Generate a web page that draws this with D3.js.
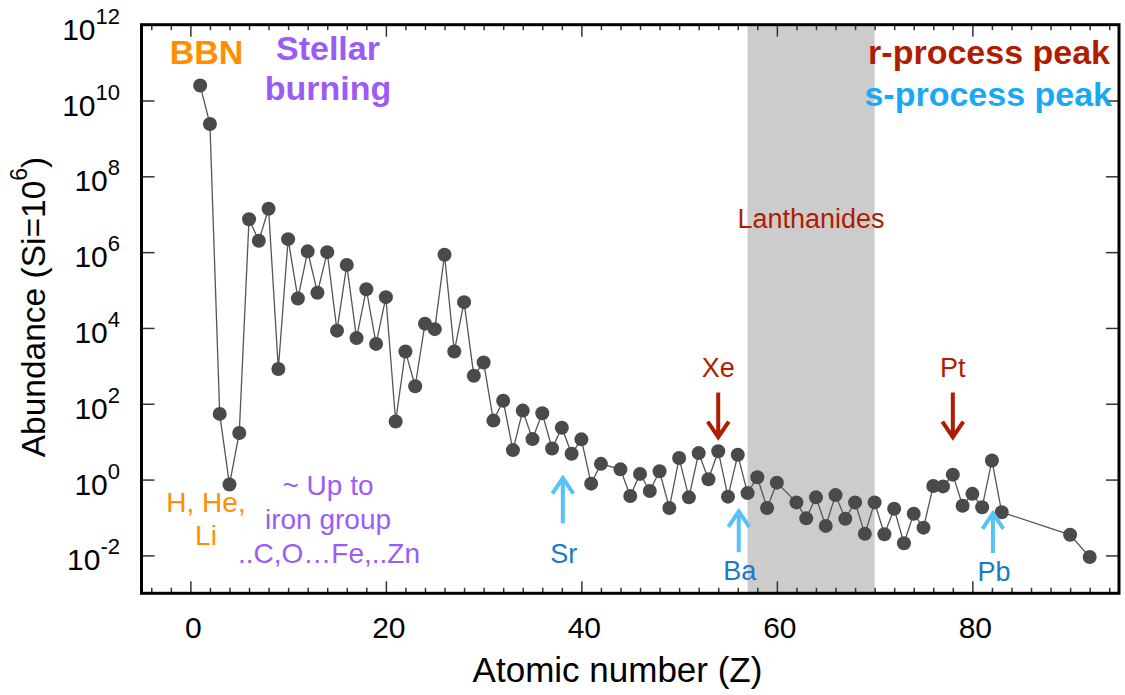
<!DOCTYPE html>
<html>
<head>
<meta charset="utf-8">
<script src="https://cdn.jsdelivr.net/npm/d3@7"></script>
<style>
  body { margin: 0; background: #ffffff; }
  svg text { font-family: "Liberation Sans", Arial, Helvetica, sans-serif; }
</style>
</head>
<body>
<svg id="chart" width="1125" height="695"></svg>
<script>
// Solar-system elemental abundances, normalised to Si = 1e6
const atomicNumbers = [
  1, 2, 3, 4, 5, 6, 7, 8, 9, 10,
  11, 12, 13, 14, 15, 16, 17, 18, 19, 20,
  21, 22, 23, 24, 25, 26, 27, 28, 29, 30,
  31, 32, 33, 34, 35, 36, 37, 38, 39, 40,
  41, 42, 44, 45, 46, 47, 48, 49, 50,
  51, 52, 53, 54, 55, 56, 57, 58, 59, 60,
  62, 63, 64, 65, 66, 67, 68, 69, 70,
  71, 72, 73, 74, 75, 76, 77, 78, 79, 80,
  81, 82, 83, 90, 92
];
const abundances = [
  2.5e10, 2.4e9, 54, 0.74, 17, 7.4e6, 2.0e6, 1.4e7, 830, 2.2e6,
  6.0e4, 1.05e6, 8.5e4, 1.0e6, 8500, 4.6e5, 5400, 1.05e5, 3800, 6.5e4,
  34, 2400, 290, 1.3e4, 9300, 8.5e5, 2400, 4.8e4, 550, 1230,
  36, 120, 6.0, 66, 11.7, 56, 6.6, 23.4, 4.8, 11.5,
  0.78, 2.6, 1.86, 0.37, 1.41, 0.50, 1.66, 0.178, 3.7,
  0.34, 5.0, 1.02, 5.6, 0.355, 4.5, 0.44, 1.15, 0.178, 0.83,
  0.25, 0.095, 0.34, 0.060, 0.39, 0.093, 0.25, 0.037, 0.25,
  0.036, 0.17, 0.021, 0.126, 0.054, 0.68, 0.66, 1.35, 0.204, 0.42,
  0.186, 3.2, 0.138, 0.035, 0.0091
];

const xTickMajor = [0, 20, 40, 60, 80];
const yTickExponents = [-2, 0, 2, 4, 6, 8, 10, 12];
const lanthanideRange = [57, 70];

const rPeakLabels = ["Xe", "Pt"];
const rPeakZ = [54, 78];
const sPeakLabels = ["Sr", "Ba", "Pb"];
const sPeakZ = [38, 56, 82];

const points = atomicNumbers.map((z, i) => ({ z, a: abundances[i] }));

const svg = d3.select("#chart");
const frame = { left: 141.5, right: 1119, top: 24.7, bottom: 593.3 };

const x = d3.scaleLinear().domain([-5, 95]).range([frame.left, frame.right]);
const y = d3.scaleLog().domain([1e-3, 1e12]).range([frame.bottom, frame.top]);

const colors = {
  point: "#4a4a4a",
  line: "#555555",
  band: "#cccccc",
  rDark: "#b01c00",
  sLight: "#58c0fa",
  sTitle: "#18a8f6",
  sLabel: "#1a7ac8",
  orange: "#ff8f00",
  purple: "#9b5cf6"
};

// Lanthanide band
svg.append("rect")
  .attr("x", x(lanthanideRange[0]))
  .attr("y", frame.top)
  .attr("width", x(lanthanideRange[1]) - x(lanthanideRange[0]))
  .attr("height", frame.bottom - frame.top)
  .attr("fill", colors.band);

// Ticks (inside the frame, on all four sides)
const minorX = d3.range(-4, 95, 2).filter(v => v % 20 !== 0);
function styleAxis(g) {
  g.select(".domain").remove();
  g.selectAll(".tick line").attr("stroke", "#333").attr("stroke-width", 1.5);
  g.selectAll(".tick text").remove();
}
svg.append("g").attr("transform", `translate(0,${frame.bottom})`)
  .call(d3.axisBottom(x).tickValues(minorX).tickSize(-5.5)).call(styleAxis);
svg.append("g").attr("transform", `translate(0,${frame.bottom})`)
  .call(d3.axisBottom(x).tickValues(xTickMajor).tickSize(-12)).call(styleAxis);
svg.append("g").attr("transform", `translate(0,${frame.top})`)
  .call(d3.axisTop(x).tickValues(minorX).tickSize(-5.5)).call(styleAxis);
svg.append("g").attr("transform", `translate(0,${frame.top})`)
  .call(d3.axisTop(x).tickValues(xTickMajor).tickSize(-12)).call(styleAxis);

const yTickVals = yTickExponents.filter(e => e < 12 && e > -3).map(e => Math.pow(10, e));
svg.append("g").attr("transform", `translate(${frame.left},0)`)
  .call(d3.axisLeft(y).tickValues(yTickVals).tickSize(-13)).call(styleAxis);
svg.append("g").attr("transform", `translate(${frame.right},0)`)
  .call(d3.axisRight(y).tickValues(yTickVals).tickSize(-13)).call(styleAxis);

// X tick labels
svg.append("g").selectAll("text")
  .data(xTickMajor).join("text")
  .attr("x", d => x(d) + 3)
  .attr("y", frame.bottom + 45)
  .attr("text-anchor", "middle")
  .attr("font-size", 30)
  .attr("fill", "#000")
  .text(d => d);

// Y tick labels as powers of ten
const yl = svg.append("g").selectAll("text")
  .data(yTickExponents).join("text")
  .attr("x", 120)
  .attr("y", d => y(Math.pow(10, d)) + 15)
  .attr("text-anchor", "end")
  .attr("font-size", 30)
  .attr("fill", "#000");
yl.append("tspan").text("10");
yl.append("tspan").attr("dy", -16).attr("font-size", 22).text(d => d);

// Axis titles
svg.append("text")
  .attr("x", 617.5)
  .attr("y", 682)
  .attr("text-anchor", "middle")
  .attr("font-size", 35)
  .text("Atomic number (Z)");

const yt = svg.append("text")
  .attr("transform", `translate(45,307) rotate(-90)`)
  .attr("text-anchor", "middle")
  .attr("font-size", 33.5);
yt.append("tspan").text("Abundance (Si=10");
yt.append("tspan").attr("dy", -18).attr("font-size", 23).text("6");
yt.append("tspan").attr("dy", 18).text(")");

// Connecting line and points
svg.append("path")
  .datum(points)
  .attr("fill", "none")
  .attr("stroke", colors.line)
  .attr("stroke-width", 1.3)
  .attr("d", d3.line().x(d => x(d.z)).y(d => y(d.a)));

svg.append("g").selectAll("circle")
  .data(points).join("circle")
  .attr("cx", d => x(d.z))
  .attr("cy", d => y(d.a))
  .attr("r", 7)
  .attr("fill", colors.point);

// Frame
svg.append("rect")
  .attr("x", frame.left).attr("y", frame.top)
  .attr("width", frame.right - frame.left)
  .attr("height", frame.bottom - frame.top)
  .attr("fill", "none")
  .attr("stroke", "#000")
  .attr("stroke-width", 3);

// Arrow helper: vertical shaft with open chevron head at (xp, yTip)
function arrow(xp, yTail, yTip, color) {
  const dir = yTip > yTail ? 1 : -1;
  const p = d3.path();
  p.moveTo(xp, yTail);
  p.lineTo(xp, yTip - dir * 2);
  p.moveTo(xp - 10.5, yTip - dir * 15.5);
  p.lineTo(xp, yTip);
  p.lineTo(xp + 10.5, yTip - dir * 15.5);
  svg.append("path")
    .attr("d", p.toString())
    .attr("fill", "none")
    .attr("stroke", color)
    .attr("stroke-width", 4)
    .attr("stroke-linejoin", "miter");
}

// r-process peaks: labels with downward arrows
rPeakZ.forEach((z, i) => {
  svg.append("text")
    .attr("x", x(z))
    .attr("y", y(Math.pow(10, 2.71)))
    .attr("text-anchor", "middle")
    .attr("font-size", 27)
    .attr("fill", colors.rDark)
    .text(rPeakLabels[i]);
  arrow(x(z), y(Math.pow(10, 2.30)), y(Math.pow(10, 1.12)), colors.rDark);
});

// s-process peaks: labels with upward arrows
const sArrowTail = [-1.15, -1.92, -1.94];
const sArrowTip = [0.04, -0.84, -0.89];
const sLabelBase = [-2.21, -2.65, -2.67];
sPeakZ.forEach((z, i) => {
  svg.append("text")
    .attr("x", x(z) + 2)
    .attr("y", y(Math.pow(10, sLabelBase[i])))
    .attr("text-anchor", "middle")
    .attr("font-size", 27)
    .attr("fill", colors.sLabel)
    .text(sPeakLabels[i]);
  arrow(x(z) + 1, y(Math.pow(10, sArrowTail[i])), y(Math.pow(10, sArrowTip[i])), colors.sLight);
});

// Region annotations
svg.append("text")
  .attr("x", 206.5).attr("y", 64)
  .attr("text-anchor", "middle")
  .attr("font-size", 34).attr("font-weight", "bold")
  .attr("fill", colors.orange)
  .text("BBN");

const stellar = svg.append("text")
  .attr("text-anchor", "middle")
  .attr("font-size", 34).attr("font-weight", "bold")
  .attr("fill", colors.purple);
stellar.append("tspan").attr("x", 328).attr("y", 59.5).text("Stellar");
stellar.append("tspan").attr("x", 328).attr("y", 100).text("burning");

svg.append("text")
  .attr("x", 1110).attr("y", 64)
  .attr("text-anchor", "end")
  .attr("font-size", 34).attr("font-weight", "bold")
  .attr("fill", colors.rDark)
  .text("r-process peak");

svg.append("text")
  .attr("x", 1112).attr("y", 106)
  .attr("text-anchor", "end")
  .attr("font-size", 34).attr("font-weight", "bold")
  .attr("fill", colors.sTitle)
  .text("s-process peak");

svg.append("text")
  .attr("x", 811).attr("y", 228)
  .attr("text-anchor", "middle")
  .attr("font-size", 27)
  .attr("fill", colors.rDark)
  .text("Lanthanides");

const hhe = svg.append("text")
  .attr("text-anchor", "middle")
  .attr("font-size", 28)
  .attr("fill", colors.orange);
hhe.append("tspan").attr("x", 206).attr("y", 512).text("H, He,");
hhe.append("tspan").attr("x", 206).attr("y", 545).text("Li");

const iron = svg.append("text")
  .attr("text-anchor", "middle")
  .attr("font-size", 28)
  .attr("fill", colors.purple);
iron.append("tspan").attr("x", 328).attr("y", 495).text("~ Up to");
iron.append("tspan").attr("x", 328).attr("y", 528.5).text("iron group");
iron.append("tspan").attr("x", 329).attr("y", 563).text("..C,O\u2026Fe,..Zn");
</script>
</body>
</html>
